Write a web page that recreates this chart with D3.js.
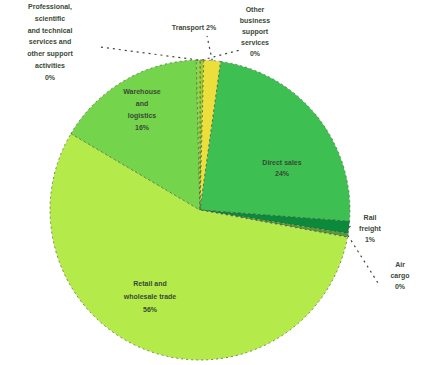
<!DOCTYPE html>
<html>
<head>
<meta charset="UTF-8" />
<title>Pie</title>
<script src="https://cdn.jsdelivr.net/npm/d3@7/dist/d3.min.js"></script>
<style>
body { margin: 0; background: #fff; }
.lbl { font-family: "Liberation Sans", Arial, sans-serif; font-size: 7px; font-weight: bold; fill: #3a4a36; }
</style>
</head>
<body>
<div id="chart"></div>
<script>
// slice data, clockwise from 12 o'clock
var categories = ['Other business support services', 'Road Transport', 'Direct sales', 'Rail freight', 'Air cargo',
                  'Retail and wholesale trade', 'Warehouse and logistics', 'Professional, scientific and technical services and other support activities'];
var values = [0.4, 1.8, 24.0, 1.3, 0.4, 55.6, 16.1, 0.4];
var colors = ['#9acd32', '#ecdf3c', '#3dbf52', '#0b8a3c', '#5a9a3a', '#b4ea4a', '#74d44b', '#8fd44a'];
var percentLabels = ['0%', '2%', '24%', '1%', '0%', '56%', '16%', '0%'];

var width = 422, height = 365;
var cx = 200, cy = 210, radius = 150;

var svg = d3.select('#chart').append('svg')
    .attr('width', width)
    .attr('height', height);

var g = svg.append('g').attr('transform', 'translate(' + cx + ',' + cy + ')');

var data = categories.map(function(c, i) {
    return {name: c, value: values[i], color: colors[i], pct: percentLabels[i]};
});

var pie = d3.pie().value(function(d) { return d.value; }).sort(null);
var arc = d3.arc().innerRadius(0).outerRadius(radius);
var arcs = pie(data);

g.selectAll('path')
    .data(arcs)
    .enter().append('path')
    .attr('d', arc)
    .attr('fill', function(d) { return d.data.color; })
    .attr('stroke', '#3b4a30')
    .attr('stroke-width', 0.9)
    .attr('stroke-dasharray', '2,3')
    .attr('stroke-opacity', 0.7);

// label layout (page coords): text spot, chars per line, line height, leader end
var labelLayout = [
    {x: 255, y: 12, chars: 9, lh: 11, lx: 240, ly: 50},
    {x: 194, y: 30, chars: 30, lh: 11, lx: 207, ly: 36},
    {x: 282, y: 165, chars: 30, lh: 11},
    {x: 370, y: 220, chars: 8, lh: 11, lx: 352, ly: 225},
    {x: 400, y: 267, chars: 8, lh: 11, lx: 378, ly: 283},
    {x: 150, y: 286, chars: 16, lh: 13},
    {x: 142, y: 94, chars: 12, lh: 12},
    {x: 50, y: 9, chars: 13, lh: 11.8, lx: 100, ly: 47}
];

function wrap(text, maxChars) {
    var words = text.split(' '), lines = [], cur = '';
    words.forEach(function(w) {
        if ((cur + ' ' + w).trim().length > maxChars && cur) { lines.push(cur); cur = w; }
        else cur = (cur + ' ' + w).trim();
    });
    if (cur) lines.push(cur);
    return lines;
}

arcs.forEach(function(a, i) {
    var lay = labelLayout[i];
    var lines = wrap(a.data.name, lay.chars);
    if (i === 1) lines = [a.data.name.split(' ')[1] + ' ' + a.data.pct];
    else lines.push(a.data.pct);
    if (lay.lx !== undefined) {
        var mid = (a.startAngle + a.endAngle) / 2;
        var px = cx + Math.sin(mid) * radius, py = cy - Math.cos(mid) * radius;
        svg.append('path')
            .attr('d', 'M' + px + ',' + py + 'L' + lay.lx + ',' + lay.ly)
            .attr('stroke', '#3a4a36')
            .attr('stroke-width', 1.2)
            .attr('stroke-dasharray', '2,4')
            .attr('fill', 'none');
    }
    var t = svg.append('text')
        .attr('class', 'lbl')
        .attr('text-anchor', 'middle')
        .attr('x', lay.x)
        .attr('y', lay.y);
    lines.forEach(function(l, k) {
        t.append('tspan').attr('x', lay.x).attr('dy', k === 0 ? 0 : lay.lh).text(l);
    });
});
</script>
</body>
</html>
